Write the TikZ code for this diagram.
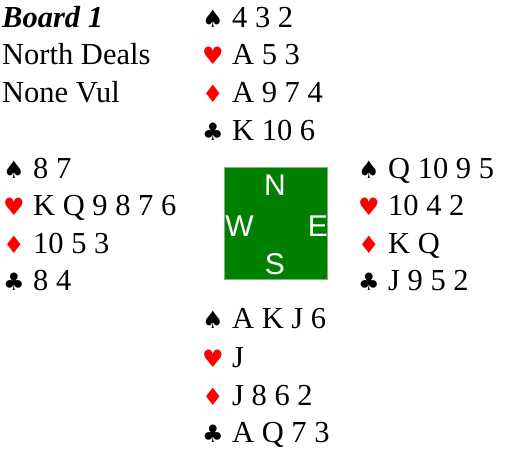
\documentclass[tikz,border=0pt]{standalone}
\usepackage{fontspec}
\setmainfont{Liberation Serif}
\newfontfamily\suitfont{DejaVu Sans}
\newfontfamily\compassfont{Liberation Sans}
\definecolor{feltgreen}{RGB}{0,128,0}
\definecolor{feltedge}{RGB}{140,170,140}
\definecolor{suitred}{RGB}{255,0,0}
\newcommand{\suitsym}[2]{\makebox[30pt][l]{\fontsize{24}{24}\suitfont\color{#1}#2}}
\tikzset{
  handline/.style={anchor=base west, inner sep=0pt, font=\fontsize{30.5}{30.5}\selectfont},
  infoline/.style={anchor=base west, inner sep=0pt, font=\fontsize{30.5}{30.5}\selectfont},
  compass/.style={inner sep=0pt, text=white, font=\fontsize{30}{30}\compassfont},
  tablebox/.style={draw=feltedge, line width=1.2pt, fill=feltgreen, minimum width=103pt, minimum height=112pt, inner sep=0pt}
}
\begin{document}
\begin{tikzpicture}[x=1pt,y=-1pt]
\useasboundingbox (0,0) rectangle (527,451);
% info
\node[infoline] (board) at (2,27) {\textbf{\textit{Board 1}}};
\node[infoline] (dealer) at (2,64) {North Deals};
\node[infoline] (vul) at (2,102) {None Vul};
% North
\node[handline] (ns) at (202,27) {\suitsym{black}{♠}4 3 2};
\node[handline] (nh) at (202,64) {\suitsym{suitred}{♥}A 5 3};
\node[handline] (nd) at (202,102) {\suitsym{suitred}{♦}A 9 7 4};
\node[handline] (nc) at (202,140) {\suitsym{black}{♣}K 10 6};
% West
\node[handline] (ws) at (3,178) {\suitsym{black}{♠}8 7};
\node[handline] (wh) at (3,215) {\suitsym{suitred}{♥}K Q 9 8 7 6};
\node[handline] (wd) at (3,253) {\suitsym{suitred}{♦}10 5 3};
\node[handline] (wc) at (3,290) {\suitsym{black}{♣}8 4};
% East
\node[handline] (es) at (358,178) {\suitsym{black}{♠}Q 10 9 5};
\node[handline] (eh) at (358,215) {\suitsym{suitred}{♥}10 4 2};
\node[handline] (ed) at (358,253) {\suitsym{suitred}{♦}K Q};
\node[handline] (ec) at (358,290) {\suitsym{black}{♣}J 9 5 2};
% South
\node[handline] (ss) at (202,328) {\suitsym{black}{♠}A K J 6};
\node[handline] (sh) at (202,367) {\suitsym{suitred}{♥}J};
\node[handline] (sd) at (202,405) {\suitsym{suitred}{♦}J 8 6 2};
\node[handline] (sc) at (202,442) {\suitsym{black}{♣}A Q 7 3};
% table
\node[tablebox] (table) at (276,223.5) {};
\node[compass] (cn) at (275,185.5) {N};
\node[compass] (cw) at (239.5,226) {W};
\node[compass] (ce) at (318,226) {E};
\node[compass] (cs) at (275,264) {S};
\end{tikzpicture}
\end{document}
